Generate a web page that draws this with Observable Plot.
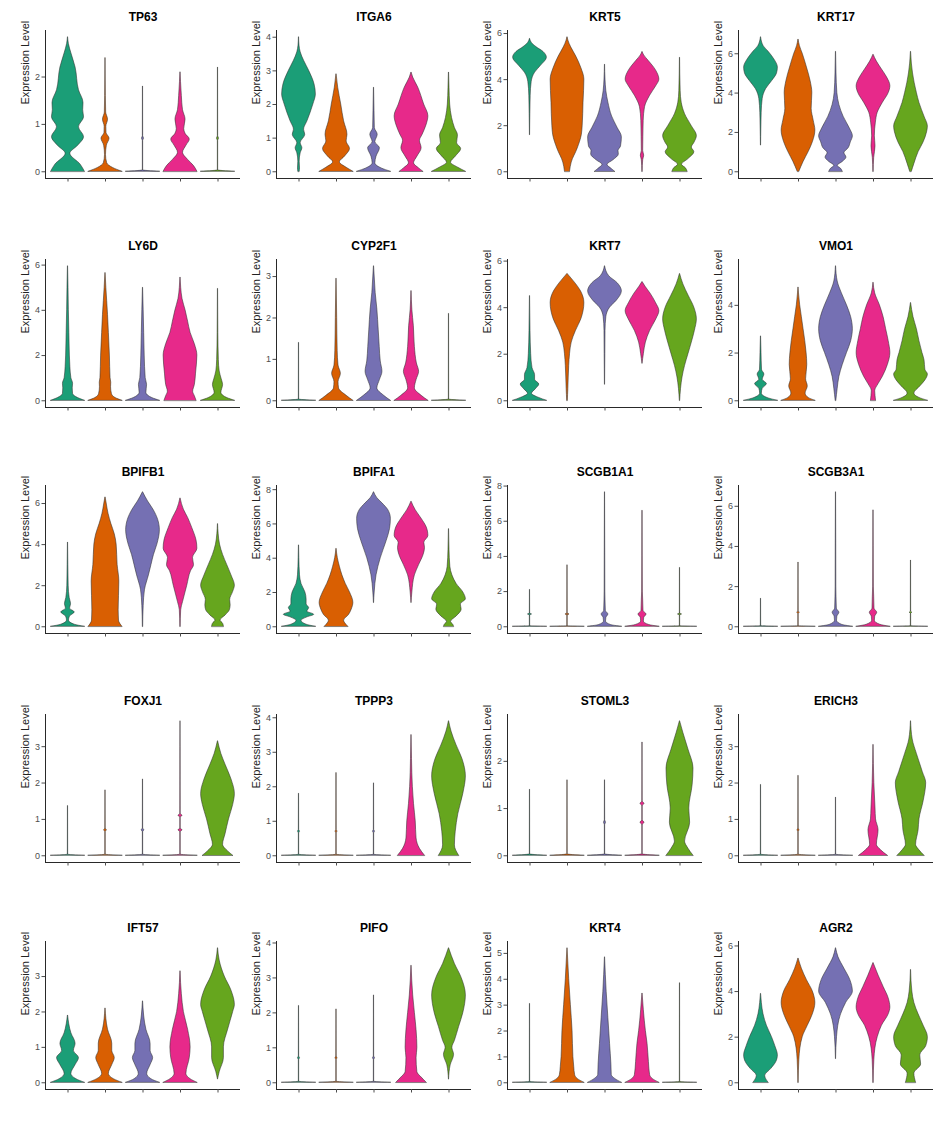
<!DOCTYPE html>
<html>
<head>
<meta charset="utf-8">
<script src="https://cdn.jsdelivr.net/npm/d3@7"></script>
<script src="https://cdn.jsdelivr.net/npm/@observablehq/plot@0.6"></script>
<style>
  body { margin: 0; background: #fff; font-family: "Liberation Sans", Arial, sans-serif; }
  #grid { position: relative; width: 936px; height: 1139px; }
  #grid svg { position: absolute; overflow: visible; }
</style>
</head>
<body>
<div id="grid"></div>
<script>
// Genes, one violin panel each (read row by row)
const genes = ["TP63","ITGA6","KRT5","KRT17","LY6D","CYP2F1","KRT7","VMO1",
  "BPIFB1","BPIFA1","SCGB1A1","SCGB3A1","FOXJ1","TPPP3","STOML3","ERICH3",
  "IFT57","PIFO","KRT4","AGR2"];
const groups = [1, 2, 3, 4, 5];
const groupColors = ["#1B9E77", "#D95F02", "#7570B3", "#E7298A", "#66A61E"];
const yTicks = [[0,1,2],[0,1,2,3,4],[0,2,4,6],[0,2,4,6],[0,2,4,6],[0,1,2,3],[0,2,4,6],[0,2,4],
  [0,2,4,6],[0,2,4,6,8],[0,2,4,6,8],[0,2,4,6],[0,1,2,3],[0,1,2,3,4],[0,1,2],[0,1,2,3],
  [0,1,2,3],[0,1,2,3,4],[0,1,2,3,4,5],[0,2,4,6]];

// Violin outlines per gene: for each group, [expression, relative width] from min to max
const vTP63 = [
  [[0,1],[0.15,0.75],[0.38,0.14],[0.55,0.6],[0.73,0.95],[0.94,0.65],[1.15,0.95],[1.3,0.9],[1.45,0.92],[1.72,0.65],[2.2,0.45],[2.5,0.2],[2.7,0.05],[2.84,0.005]],
  [[0,1],[0.08,0.45],[0.18,0.1],[0.35,0.03],[0.55,0.08],[0.7,0.24],[0.82,0.06],[0.95,0.05],[1.1,0.15],[1.25,0.04],[1.6,0.02],[2.4,0.005]],
  [[0,1],[0.03,0.01],[0.65,0.01],[0.7,0.06],[0.75,0.01],[1.8,0.005]],
  [[0,1],[0.12,0.8],[0.25,0.45],[0.4,0.15],[0.55,0.35],[0.68,0.55],[0.8,0.3],[0.9,0.22],[1.1,0.3],[1.3,0.15],[1.6,0.08],[1.9,0.03],[2.1,0.005]],
  [[0,1],[0.03,0.01],[0.65,0.01],[0.7,0.06],[0.75,0.01],[2.2,0.005]]
];
const vITGA6 = [
  [[0,0.04],[0.1,0.06],[0.3,0.04],[0.55,0.1],[0.7,0.2],[0.85,0.1],[1.1,0.37],[1.25,0.3],[1.5,0.5],[2.0,0.85],[2.3,1],[2.6,0.92],[3.0,0.6],[3.3,0.3],[3.55,0.1],[3.75,0.03],[4.0,0.005]],
  [[0,1],[0.12,0.6],[0.28,0.2],[0.45,0.5],[0.68,0.8],[0.9,0.6],[1.1,0.65],[1.5,0.45],[2.0,0.28],[2.5,0.1],[2.9,0.005]],
  [[0,1],[0.1,0.45],[0.25,0.08],[0.45,0.15],[0.7,0.35],[0.88,0.08],[1.1,0.22],[1.3,0.05],[1.8,0.03],[2.5,0.005]],
  [[0,0.7],[0.1,0.45],[0.25,0.15],[0.45,0.35],[0.7,0.6],[0.92,0.5],[1.1,0.66],[1.4,0.9],[1.65,1],[2.0,0.75],[2.5,0.4],[2.8,0.1],[2.95,0.005]],
  [[0,1],[0.12,0.55],[0.27,0.12],[0.45,0.4],[0.68,0.72],[0.85,0.48],[1.08,0.53],[1.3,0.35],[1.6,0.18],[2.0,0.07],[2.5,0.03],[2.95,0.005]]
];
const vKRT5 = [
  [[1.6,0.005],[2.5,0.02],[3.3,0.04],[3.9,0.1],[4.3,0.3],[4.6,0.65],[4.95,1],[5.2,0.8],[5.4,0.4],[5.6,0.1],[5.77,0.005]],
  [[0,0.15],[0.4,0.25],[1.0,0.6],[1.6,0.85],[2.0,0.9],[3.0,0.95],[4.0,1],[4.5,0.82],[5.0,0.52],[5.4,0.22],[5.7,0.05],[5.84,0.005]],
  [[0,0.6],[0.12,0.4],[0.3,0.15],[0.5,0.5],[0.75,0.82],[0.9,0.8],[1.1,0.95],[1.5,1],[1.9,0.75],[2.4,0.42],[3.0,0.2],[3.5,0.08],[4.0,0.03],[4.65,0.005]],
  [[0,0.01],[0.5,0.04],[0.7,0.1],[0.9,0.04],[1.5,0.05],[2.2,0.07],[2.8,0.15],[3.3,0.45],[3.7,0.8],[4.0,1],[4.4,0.8],[4.8,0.38],[5.05,0.1],[5.2,0.005]],
  [[0,0.45],[0.15,0.35],[0.3,0.12],[0.55,0.5],[0.85,0.85],[1.05,0.7],[1.25,0.85],[1.55,1],[2.0,0.68],[2.5,0.3],[3.0,0.1],[3.5,0.04],[4.95,0.005]]
];
const vKRT17 = [
  [[1.35,0.005],[2.2,0.02],[3.0,0.04],[3.7,0.1],[4.2,0.3],[4.6,0.65],[5.0,0.95],[5.3,1],[5.7,0.8],[6.1,0.45],[6.4,0.15],[6.84,0.005]],
  [[0,0.05],[0.5,0.3],[1.0,0.6],[1.5,0.85],[2.1,1],[2.6,0.9],[3.2,0.78],[4.0,0.82],[4.6,0.72],[5.3,0.5],[6.0,0.25],[6.4,0.08],[6.72,0.005]],
  [[0,0.4],[0.15,0.3],[0.3,0.1],[0.5,0.4],[0.72,0.62],[0.95,0.5],[1.2,0.75],[1.5,0.88],[1.8,1],[2.2,0.82],[2.8,0.45],[3.4,0.2],[4.0,0.08],[5.0,0.03],[6.1,0.005]],
  [[0,0.01],[0.7,0.04],[1.3,0.12],[1.8,0.08],[2.5,0.14],[3.0,0.25],[3.5,0.55],[4.0,0.9],[4.35,1],[4.8,0.8],[5.2,0.5],[5.6,0.2],[5.95,0.005]],
  [[0,0.05],[0.4,0.2],[1.0,0.45],[1.5,0.75],[2.0,0.95],[2.3,1],[2.8,0.8],[3.5,0.5],[4.0,0.35],[4.5,0.22],[5.0,0.12],[5.5,0.05],[6.1,0.005]]
];
const vLY6D = [
  [[0,1],[0.12,0.6],[0.3,0.3],[0.55,0.28],[0.75,0.3],[1.0,0.2],[1.5,0.14],[2.0,0.11],[3.0,0.08],[4.0,0.05],[5.0,0.03],[5.95,0.005]],
  [[0,1],[0.12,0.6],[0.3,0.38],[0.6,0.33],[0.8,0.34],[1.0,0.3],[2.0,0.26],[3.0,0.2],[3.8,0.15],[4.4,0.1],[5.0,0.05],[5.65,0.005]],
  [[0,1],[0.12,0.55],[0.35,0.2],[0.7,0.24],[1.0,0.16],[2.0,0.1],[3.0,0.07],[4.0,0.04],[5.0,0.005]],
  [[0,0.95],[0.2,0.85],[0.4,0.75],[0.7,0.85],[1.2,0.92],[2.0,1],[2.5,0.85],[3.0,0.6],[3.5,0.45],[4.0,0.3],[4.5,0.12],[5.0,0.04],[5.45,0.005]],
  [[0,1],[0.12,0.55],[0.35,0.2],[0.7,0.3],[0.95,0.22],[1.3,0.1],[1.8,0.05],[3.0,0.02],[4.95,0.005]]
];
const vCYP2F1 = [
  [[0,1],[0.03,0.01],[1.4,0.005]],
  [[0,1],[0.12,0.6],[0.3,0.15],[0.45,0.12],[0.65,0.26],[0.85,0.12],[1.2,0.07],[2.0,0.04],[2.95,0.005]],
  [[0,1],[0.12,0.6],[0.3,0.2],[0.5,0.35],[0.7,0.5],[0.95,0.4],[1.3,0.34],[1.7,0.28],[2.2,0.2],[2.6,0.1],[3.0,0.04],[3.25,0.005]],
  [[0,1],[0.12,0.6],[0.3,0.2],[0.5,0.3],[0.7,0.45],[0.9,0.32],[1.3,0.2],[1.8,0.14],[2.2,0.05],[2.65,0.005]],
  [[0,1],[0.03,0.01],[2.1,0.005]]
];
const vKRT7 = [
  [[0,1],[0.12,0.55],[0.3,0.12],[0.5,0.35],[0.7,0.55],[0.9,0.3],[1.1,0.3],[1.4,0.15],[2.0,0.07],[3.0,0.03],[4.5,0.005]],
  [[0,0.02],[0.5,0.05],[1.5,0.1],[2.0,0.15],[2.5,0.25],[3.0,0.5],[3.5,0.82],[4.2,1],[4.7,0.8],[5.0,0.52],[5.3,0.18],[5.45,0.005]],
  [[0.7,0.005],[2.0,0.02],[3.0,0.03],[3.6,0.08],[4.0,0.3],[4.3,0.7],[4.7,1],[5.05,0.75],[5.35,0.25],[5.78,0.005]],
  [[1.6,0.005],[2.0,0.08],[2.5,0.2],[3.0,0.45],[3.5,0.82],[3.85,1],[4.2,0.8],[4.6,0.48],[4.9,0.18],[5.1,0.005]],
  [[0,0.01],[0.5,0.06],[1.0,0.15],[1.5,0.3],[2.0,0.5],[2.5,0.7],[3.0,0.88],[3.5,1],[4.0,0.85],[4.5,0.52],[5.0,0.2],[5.45,0.005]]
];
const vVMO1 = [
  [[0,1],[0.1,0.45],[0.3,0.05],[0.5,0.1],[0.7,0.35],[0.88,0.1],[1.1,0.2],[1.3,0.06],[2.0,0.03],[2.7,0.005]],
  [[0,1],[0.12,0.6],[0.3,0.42],[0.6,0.55],[0.9,0.45],[1.5,0.52],[2.0,0.48],[2.5,0.4],[3.0,0.3],[3.5,0.2],[4.0,0.1],[4.5,0.03],[4.75,0.005]],
  [[0,0.02],[0.5,0.1],[1.0,0.2],[1.5,0.4],[2.0,0.65],[2.5,0.9],[3.0,1],[3.5,0.9],[4.0,0.65],[4.5,0.35],[5.0,0.1],[5.64,0.005]],
  [[0,0.15],[0.2,0.12],[0.4,0.1],[0.7,0.3],[1.0,0.55],[1.5,0.85],[2.0,1],[2.5,0.9],[3.0,0.75],[3.5,0.6],[4.0,0.38],[4.5,0.1],[4.95,0.005]],
  [[0,1],[0.12,0.5],[0.3,0.2],[0.6,0.55],[0.85,0.85],[1.1,1],[1.3,0.85],[1.7,0.8],[2.0,0.68],[2.5,0.5],[3.0,0.35],[3.5,0.15],[4.1,0.005]]
];
const vBPIFB1 = [
  [[0,1],[0.1,0.4],[0.3,0.06],[0.5,0.12],[0.7,0.4],[0.88,0.12],[1.1,0.18],[1.4,0.1],[2.0,0.04],[3.0,0.02],[4.1,0.005]],
  [[0,1],[0.3,0.8],[0.8,0.78],[1.5,0.8],[2.2,0.82],[3.0,0.72],[4.0,0.66],[4.5,0.55],[5.0,0.35],[5.5,0.18],[6.0,0.07],[6.3,0.005]],
  [[0,0.01],[1.0,0.04],[1.8,0.12],[2.5,0.35],[3.0,0.5],[3.5,0.65],[4.0,0.85],[4.7,1],[5.2,0.9],[5.7,0.62],[6.1,0.3],[6.55,0.005]],
  [[0,0.01],[0.8,0.04],[1.2,0.15],[2.0,0.4],[2.7,0.62],[3.0,0.8],[3.35,0.74],[3.8,1],[4.2,0.95],[4.8,0.7],[5.3,0.45],[5.7,0.2],[6.25,0.005]],
  [[0,0.35],[0.15,0.3],[0.3,0.15],[0.55,0.45],[0.8,0.7],[1.05,0.75],[1.3,0.72],[1.7,0.9],[2.0,1],[2.5,0.8],[3.0,0.55],[3.5,0.3],[4.0,0.12],[4.5,0.04],[5.0,0.005]]
];
const vBPIFA1 = [
  [[0,1],[0.12,0.45],[0.35,0.15],[0.55,0.5],[0.7,0.9],[0.88,0.5],[1.1,0.6],[1.3,0.45],[1.6,0.45],[2.0,0.38],[2.5,0.15],[3.0,0.06],[4.0,0.02],[4.75,0.005]],
  [[0,0.7],[0.2,0.52],[0.35,0.45],[0.7,0.75],[1.0,0.9],[1.4,1],[2.0,0.8],[2.5,0.55],[3.0,0.35],[3.5,0.2],[4.0,0.08],[4.55,0.005]],
  [[1.4,0.005],[2.0,0.04],[3.0,0.15],[4.0,0.4],[5.0,0.75],[5.7,0.95],[6.3,1],[6.8,0.85],[7.2,0.5],[7.5,0.2],[7.85,0.005]],
  [[1.4,0.005],[2.0,0.05],[3.0,0.2],[3.6,0.45],[4.2,0.72],[4.6,0.8],[4.9,0.76],[5.3,1],[5.8,0.9],[6.3,0.6],[6.8,0.25],[7.3,0.005]],
  [[0,0.3],[0.12,0.25],[0.28,0.12],[0.6,0.45],[1.0,0.75],[1.3,0.7],[1.6,1],[2.0,0.85],[2.5,0.45],[3.0,0.2],[3.5,0.08],[4.5,0.03],[5.7,0.005]]
];
const vSCGB1A1 = [
  [[0,1],[0.03,0.01],[0.65,0.01],[0.7,0.12],[0.75,0.01],[2.1,0.005]],
  [[0,1],[0.03,0.01],[0.65,0.01],[0.7,0.12],[0.75,0.01],[3.5,0.005]],
  [[0,1],[0.1,0.35],[0.3,0.06],[0.5,0.08],[0.7,0.2],[0.9,0.05],[1.5,0.03],[2.0,0.02],[4.0,0.015],[7.65,0.005]],
  [[0,1],[0.1,0.4],[0.3,0.08],[0.5,0.1],[0.7,0.24],[0.9,0.06],[1.5,0.04],[2.0,0.02],[4.0,0.012],[6.6,0.005]],
  [[0,1],[0.03,0.01],[0.65,0.01],[0.7,0.12],[0.75,0.01],[3.35,0.005]]
];
const vSCGB3A1 = [
  [[0,1],[0.03,0.01],[1.4,0.005]],
  [[0,1],[0.03,0.01],[0.65,0.01],[0.7,0.08],[0.75,0.01],[3.2,0.005]],
  [[0,1],[0.1,0.35],[0.3,0.06],[0.5,0.08],[0.7,0.2],[0.9,0.05],[1.5,0.03],[2.0,0.02],[4.0,0.015],[6.7,0.005]],
  [[0,1],[0.1,0.4],[0.3,0.08],[0.5,0.1],[0.7,0.22],[0.9,0.06],[1.5,0.04],[2.0,0.02],[4.0,0.012],[5.8,0.005]],
  [[0,1],[0.03,0.01],[0.65,0.01],[0.7,0.08],[0.75,0.01],[3.3,0.005]]
];
const vFOXJ1 = [
  [[0,1],[0.03,0.01],[1.37,0.005]],
  [[0,1],[0.03,0.01],[0.65,0.01],[0.7,0.08],[0.75,0.01],[1.8,0.005]],
  [[0,1],[0.03,0.01],[0.65,0.01],[0.7,0.08],[0.75,0.01],[2.1,0.005]],
  [[0,1],[0.03,0.01],[0.65,0.01],[0.7,0.12],[0.75,0.01],[1.05,0.01],[1.1,0.12],[1.15,0.01],[3.0,0.004],[3.7,0.001]],
  [[0,0.9],[0.12,0.6],[0.3,0.3],[0.6,0.45],[1.0,0.65],[1.4,0.9],[1.7,1],[2.1,0.8],[2.5,0.45],[2.8,0.2],[3.15,0.005]]
];
const vTPPP3 = [
  [[0,1],[0.03,0.01],[0.65,0.01],[0.7,0.06],[0.75,0.01],[1.8,0.005]],
  [[0,1],[0.03,0.01],[0.65,0.01],[0.7,0.06],[0.75,0.01],[2.4,0.005]],
  [[0,1],[0.03,0.01],[0.65,0.01],[0.7,0.06],[0.75,0.01],[2.1,0.005]],
  [[0,0.8],[0.2,0.5],[0.5,0.3],[1.0,0.25],[1.5,0.15],[2.0,0.08],[2.8,0.03],[3.5,0.005]],
  [[0,0.6],[0.3,0.35],[0.7,0.4],[1.2,0.55],[1.8,0.85],[2.3,1],[2.8,0.8],[3.2,0.45],[3.6,0.15],[3.9,0.005]]
];
const vSTOML3 = [
  [[0,1],[0.03,0.01],[1.4,0.005]],
  [[0,1],[0.03,0.01],[1.6,0.005]],
  [[0,1],[0.03,0.01],[0.65,0.01],[0.7,0.06],[0.75,0.01],[1.6,0.005]],
  [[0,1],[0.03,0.01],[0.65,0.01],[0.7,0.12],[0.75,0.01],[1.05,0.01],[1.1,0.12],[1.15,0.01],[2.4,0.005]],
  [[0,0.8],[0.15,0.5],[0.3,0.3],[0.7,0.6],[1.0,0.55],[1.5,0.75],[1.85,0.8],[2.25,0.5],[2.6,0.2],[2.85,0.005]]
];
const vERICH3 = [
  [[0,1],[0.03,0.01],[1.95,0.005]],
  [[0,1],[0.03,0.01],[0.65,0.01],[0.7,0.06],[0.75,0.01],[2.2,0.005]],
  [[0,1],[0.03,0.01],[1.6,0.005]],
  [[0,0.85],[0.15,0.45],[0.3,0.2],[0.7,0.3],[1.0,0.15],[1.3,0.12],[2.0,0.05],[3.05,0.005]],
  [[0,0.8],[0.15,0.5],[0.3,0.3],[0.7,0.45],[1.0,0.5],[1.5,0.75],[2.0,0.9],[2.3,0.7],[2.8,0.35],[3.2,0.1],[3.7,0.005]]
];
const vIFT57 = [
  [[0,1],[0.1,0.5],[0.25,0.2],[0.5,0.45],[0.7,0.65],[0.9,0.35],[1.1,0.45],[1.4,0.2],[1.9,0.005]],
  [[0,1],[0.1,0.5],[0.25,0.2],[0.5,0.4],[0.7,0.55],[0.9,0.4],[1.1,0.4],[1.5,0.15],[2.1,0.005]],
  [[0,1],[0.1,0.5],[0.25,0.25],[0.5,0.45],[0.7,0.6],[0.9,0.45],[1.1,0.45],[1.5,0.2],[2.3,0.005]],
  [[0,1],[0.1,0.6],[0.25,0.35],[0.7,0.55],[1.0,0.6],[1.5,0.45],[2.0,0.2],[2.5,0.08],[3.15,0.005]],
  [[0.1,0.005],[0.3,0.1],[0.7,0.35],[1.0,0.35],[1.5,0.6],[2.0,0.9],[2.2,1],[2.6,0.8],[3.0,0.4],[3.45,0.1],[3.8,0.005]]
];
const vPIFO = [
  [[0,1],[0.03,0.01],[0.65,0.01],[0.7,0.06],[0.75,0.01],[2.2,0.005]],
  [[0,1],[0.03,0.01],[0.65,0.01],[0.7,0.06],[0.75,0.01],[2.1,0.005]],
  [[0,1],[0.03,0.01],[0.65,0.01],[0.7,0.06],[0.75,0.01],[2.5,0.005]],
  [[0,0.9],[0.15,0.6],[0.3,0.35],[0.7,0.3],[1.0,0.35],[1.5,0.3],[2.0,0.2],[2.5,0.1],[3.35,0.005]],
  [[0.1,0.005],[0.5,0.1],[0.8,0.3],[1.0,0.2],[1.2,0.35],[1.6,0.6],[2.0,0.85],[2.5,1],[3.0,0.75],[3.4,0.35],[3.85,0.005]]
];
const vKRT4 = [
  [[0,1],[0.03,0.01],[3.05,0.005]],
  [[0,1],[0.15,0.6],[0.3,0.45],[0.6,0.4],[1.0,0.35],[2.0,0.3],[3.0,0.2],[4.0,0.1],[5.2,0.005]],
  [[0,1],[0.15,0.6],[0.3,0.4],[0.7,0.38],[1.5,0.3],[2.5,0.2],[3.5,0.1],[4.85,0.005]],
  [[0,1],[0.15,0.6],[0.3,0.45],[0.8,0.38],[1.5,0.3],[2.0,0.2],[2.8,0.08],[3.45,0.005]],
  [[0,1],[0.03,0.01],[3.85,0.005]]
];
const vAGR2 = [
  [[0,0.45],[0.3,0.25],[0.6,0.6],[0.9,0.9],[1.2,1],[1.6,0.85],[2.0,0.65],[2.5,0.35],[3.0,0.15],[3.5,0.05],[3.9,0.005]],
  [[0,0.01],[1.0,0.05],[2.0,0.25],[2.5,0.55],[3.0,0.85],[3.5,1],[4.0,0.85],[4.5,0.5],[5.0,0.2],[5.45,0.005]],
  [[1.05,0.005],[2.0,0.06],[3.0,0.3],[3.5,0.6],[4.0,1],[4.5,0.85],[5.0,0.5],[5.5,0.15],[5.9,0.005]],
  [[0,0.01],[1.0,0.05],[2.0,0.25],[2.5,0.5],[3.0,0.9],[3.3,1],[3.7,0.9],[4.2,0.6],[4.7,0.3],[5.25,0.005]],
  [[0,0.3],[0.4,0.2],[0.8,0.6],[1.2,0.55],[1.6,0.9],[2.0,1],[2.5,0.75],[3.0,0.45],[3.5,0.2],[4.0,0.08],[4.95,0.005]]
];

const violins = [vTP63, vITGA6, vKRT5, vKRT17, vLY6D, vCYP2F1, vKRT7, vVMO1,
  vBPIFB1, vBPIFA1, vSCGB1A1, vSCGB3A1, vFOXJ1, vTPPP3, vSTOML3, vERICH3,
  vIFT57, vPIFO, vKRT4, vAGR2];

// Panel placement on the page
const colLeft = [0, 231, 462, 693];
const rowTop = [0, 229, 455, 684, 911];
const halfWidth = 0.45; // violins scaled to equal max width (0.9 of a slot)

function violinPanel(i) {
  const rows = [];
  violins[i].forEach((profile, k) =>
    profile.forEach(([value, w]) => rows.push({group: groups[k], value, w})));
  const top = d3.max(rows, d => d.value);
  const bottom = d3.min(rows, d => d.value);
  const pad = (top - bottom) * 0.05;
  const y0 = bottom - pad;
  return Plot.plot({
    width: 240,
    height: 228,
    marginLeft: 45,
    marginRight: 0,
    marginTop: 30,
    marginBottom: 50,
    style: {fontFamily: "'Liberation Sans', Arial, sans-serif", background: "transparent", overflow: "visible"},
    x: {domain: [0.4, 5.6]},
    y: {domain: [y0, top + pad]},
    color: {domain: groups, range: groupColors},
    marks: [
      Plot.areaX(rows, {
        y: "value",
        x1: d => d.group - halfWidth * d.w,
        x2: d => d.group + halfWidth * d.w,
        z: "group",
        fill: "group",
        stroke: "#2e2e2e",
        strokeWidth: 0.55,
        curve: "monotone-y"
      }),
      Plot.ruleX([0.4], {stroke: "#111", strokeWidth: 0.9}),
      Plot.ruleY([y0], {stroke: "#111", strokeWidth: 0.9}),
      Plot.axisY({ticks: yTicks[i], tickFormat: d3.format("d"), tickSize: 3.5, tickPadding: 2, fontSize: 9, color: "#4d4d4d", label: null}),
      Plot.axisX({ticks: groups, tickSize: 3.5, tickFormat: () => "", color: "#4d4d4d", label: null}),
      Plot.text([genes[i]], {frameAnchor: "top", dy: -13, lineAnchor: "middle", fontWeight: "bold", fontSize: 12, fill: "#000"}),
      Plot.text(["Expression Level"], {frameAnchor: "left", dx: -20, rotate: -90, fontSize: 11, fill: "#222"})
    ]
  });
}

const grid = document.getElementById("grid");
genes.forEach((g, i) => {
  const svg = violinPanel(i);
  svg.style.left = colLeft[i % 4] + "px";
  svg.style.top = rowTop[Math.floor(i / 4)] + "px";
  grid.appendChild(svg);
});
</script>
</body>
</html>
